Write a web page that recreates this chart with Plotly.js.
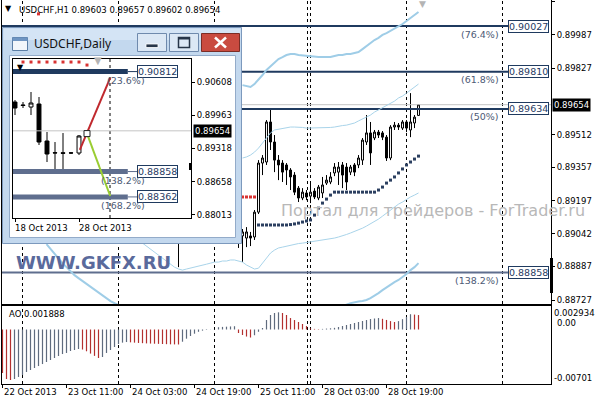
<!DOCTYPE html>
<html>
<head>
<meta charset="utf-8">
<script src="https://cdn.plot.ly/plotly-3.0.1.min.js"></script>
<style>
html,body{margin:0;padding:0;background:#fff;overflow:hidden;}
#chart{width:596px;height:400px;}
</style>
</head>
<body>
<div id="chart"></div>
<script>
// ================= DATA =================
var symbolMain  = 'USDCHF,H1';
var symbolDaily = 'USDCHF,Daily';

// ---- H1 chart: visible candles (x = bar number from the left edge) ----
var barIdx   = [44,59,60,61,62,63,64,65,66,67,68,69,70,71,72,73,74,75,76,77,78,79,80,81,82,83,84,85,86,87,88,89,90,91,92,93,94,95,96,97,98,99,100,101,102,103,104];
var barOpen  = [0.89059,0.89050,0.89031, 0.89021,0.89031,0.89026,0.89144,0.89377,0.89382,0.89572,0.89477,0.89391,0.89377, 0.89368,0.89344,0.89320,0.89258,0.89211,0.89235,0.89220,0.89244,0.89211,0.89235, 0.89282,0.89287,0.89330,0.89334,0.89368,0.89358,0.89334,0.89368,0.89368,0.89391, 0.89477,0.89520,0.89496,0.89524,0.89520,0.89500,0.89401,0.89548,0.89557,0.89543, 0.89572,0.89534,0.89567,0.89603];
var barHigh  = [0.89107,0.89069,0.89064, 0.89073,0.89050,0.89154,0.89391,0.89415,0.89581,0.89629,0.89510,0.89415,0.89391, 0.89377,0.89353,0.89334,0.89268,0.89258,0.89249,0.89282,0.89258,0.89273,0.89311, 0.89320,0.89334,0.89377,0.89382,0.89382,0.89377,0.89368,0.89377,0.89415,0.89496, 0.89605,0.89572,0.89534,0.89534,0.89529,0.89510,0.89557,0.89572,0.89567,0.89581, 0.89581,0.89709,0.89605,0.89657];
var barLow   = [0.88883,0.88974,0.88907, 0.88978,0.88983,0.89012,0.89135,0.89320,0.89368,0.89439,0.89334,0.89296,0.89287, 0.89273,0.89249,0.89225,0.89192,0.89201,0.89201,0.89187,0.89206,0.89201,0.89211, 0.89273,0.89277,0.89315,0.89273,0.89258,0.89249,0.89320,0.89315,0.89353,0.89368, 0.89463,0.89368,0.89486,0.89496,0.89486,0.89387,0.89391,0.89534,0.89534,0.89534, 0.89524,0.89500,0.89543,0.89602];
var barClose = [0.89021,0.89031,0.89050, 0.89050,0.89021,0.89144,0.89377,0.89401,0.89572,0.89477,0.89391,0.89368,0.89334, 0.89344,0.89311,0.89239,0.89211,0.89239,0.89216,0.89239,0.89216,0.89263,0.89273, 0.89296,0.89311,0.89358,0.89358,0.89320,0.89287,0.89358,0.89334,0.89401,0.89486, 0.89520,0.89425,0.89524,0.89510,0.89500,0.89401,0.89548,0.89557,0.89548,0.89572, 0.89543,0.89572,0.89595,0.89654];

// Parabolic SAR (below price = navy, above price = red)
var sarUpIdx  = [64,65,66,67,68,69,70,71,72,73,74,75,76,77,78,79,80,81,82,83,84,85,86,87,88,89,90,91,92,93,94,95,96,97,98,99,100,101,102,103,104];
var sarUpVal  = [0.89083,0.89083,0.89083,0.89083,0.89083,0.89083,0.89083,0.89083,0.89085,0.89088,0.89092,0.89097,0.89102,0.89107,
                 0.89130,0.89163,0.89187,0.89206,0.89225,
                 0.89239,0.89239,0.89239,0.89239,0.89239,0.89239,0.89239,0.89239,0.89239,0.89239,0.89239,
                 0.89249,0.89263,0.89282,0.89296,0.89311,0.89330,0.89349,0.89368,0.89382,0.89396,0.89410];
var sarDnIdx  = [9,60,61,62,63];
var sarDnVal  = [0.90085,0.89216,0.89216,0.89216,0.89216];

// Bands (only the parts not hidden behind the daily window)
var upperOuterStart = 60;
var upperOuter = [0.89747,0.89743,0.89738,0.89752,0.89771,0.89795,0.89819,0.89838,0.89857,0.89871,0.89880,0.89890,0.89895,0.89895,0.89890,0.89888,0.89885,0.89883,0.89880,0.89880,0.89880,0.89880,0.89880,0.89885,0.89890,0.89890,0.89895,0.89895,0.89899,0.89904,0.89918,0.89933,0.89947,0.89961,0.89971,0.89985,0.89994,0.90004,0.90013,0.90023,0.90037,0.90051,0.90066,0.90080,0.90094];
var upperInnerStart = 60;
var upperInner = [0.89401,0.89406,0.89415,0.89429,0.89448,0.89472,0.89501,0.89520,0.89534,0.89538,0.89543,0.89546,0.89548,0.89548,0.89548,0.89546,0.89543,0.89543,0.89543,0.89543,0.89543,0.89543,0.89546,0.89548,0.89553,0.89555,0.89557,0.89562,0.89567,0.89577,0.89586,0.89595,0.89605,0.89619,0.89629,0.89643,0.89652,0.89662,0.89671,0.89686,0.89695,0.89709,0.89724,0.89738,0.89752];
var lowerInnerStart = 35;
var lowerInner = [0.88997,0.88983,0.88969,0.88954,0.88940,0.88926,0.88912,0.88897,0.88883,0.88874,0.88869,0.88874,0.88878,0.88883,0.88888,0.88893,0.88897,0.88902,0.88907,0.88907,0.88912,0.88912,0.88917,0.88917,0.88912,0.88907,0.88893,0.88883,0.88874,0.88878,0.88902,0.88926,0.88950,0.88964,0.88974,0.88978,0.88983,0.88988,0.88992,0.88995,0.88997,0.89000,0.89002,0.89005,0.89007,0.89009,0.89012,0.89016,0.89021,0.89026,0.89031,0.89038,0.89045,0.89052,0.89059,0.89068,0.89078,0.89088,0.89097,0.89111,0.89125,0.89140,0.89154,0.89168,0.89182,0.89192,0.89206,0.89216,0.89225,0.89235];
var lowerOuterAStart = 11;
var lowerOuterA = [0.88992,0.88969,0.88945,0.88921,0.88902,0.88883,0.88864,0.88845,0.88831,0.88817,0.88803,0.88788,0.88774,0.88760,0.88746,0.88736,0.88722,0.88712,0.88703];
var lowerOuterBStart = 84;
var lowerOuterB = [0.88689,0.88698,0.88705,0.88712,0.88717,0.88720,0.88722,0.88727,0.88736,0.88746,0.88760,0.88774,0.88788,0.88798,0.88812,0.88822,0.88836,0.88850,0.88869,0.88883,0.88902];

// Fibonacci levels on the H1 chart
var fibLevels = [0.90027, 0.89810, 0.89634, 0.88858];
var fibNames  = ['(76.4%)', '(61.8%)', '(50%)', '(138.2%)'];
var bidPrice  = 0.89654;

// Day separators (bar numbers)
var separators = [5, 29, 53, 76.25, 77, 101, 125];

// Price axis labels
var priceTicks = [0.90142, 0.89987, 0.89827, 0.89512, 0.89357, 0.89197, 0.89042, 0.88887, 0.88727];

// Time axis labels
var timeLabelIdx  = [0, 16, 32, 48, 64, 80, 96];
var timeLabelText = ['22 Oct 2013', '23 Oct 11:00', '24 Oct 03:00', '24 Oct 19:00', '25 Oct 11:00', '28 Oct 03:00', '28 Oct 19:00'];

// Awesome Oscillator, one value per bar (bar 0..104)
var aoVals = [-0.00569,-0.00648,-0.00661,-0.00648,-0.00621,-0.00595,-0.00556,-0.00530,-0.00504,-0.00478,
              -0.00452,-0.00425,-0.00399,-0.00373,-0.00347,-0.00321,-0.00307,-0.00281,-0.00268,-0.00255,
              -0.00262,-0.00285,-0.00315,-0.00345,-0.00373,-0.00360,-0.00307,-0.00268,-0.00229,-0.00190,
              -0.00172,-0.00164,-0.00168,-0.00172,-0.00176,-0.00179,-0.00182,-0.00184,-0.00186,-0.00188,
              -0.00190,-0.00192,-0.00194,-0.00195,-0.00196,-0.00160,-0.00120,-0.00085,-0.00055,-0.00030,
              -0.00015,-0.00006,-0.00002,0.00005,0.00030,0.00034,0.00037,0.00040,0.00043,-0.00046,
              -0.00072,-0.00092,-0.00105,-0.00075,-0.00030,0.00020,0.00124,0.00190,0.00216,0.00225,
              0.00216,0.00190,0.00150,0.00124,0.00098,0.00072,0.00045,0.00015,0.00008,0.00005,
              0.00008,0.00012,0.00016,0.00022,0.00033,0.00046,0.00059,0.00072,0.00085,0.00098,
              0.00111,0.00124,0.00137,0.00144,0.00150,0.00140,0.00125,0.00110,0.00098,0.00110,
              0.00135,0.00165,0.00200,0.00195,0.001888];
var aoTickText = ['0.002934', '0.00', '-0.00701'];

// ---- Daily chart (inset window) ----
var dayIdx   = [0,1,2,3,4,5,6,7,8,9];
var dayOpen  = [0.90217,0.90159,0.90119,0.90178,0.89455,0.89220,0.89225,0.89220,0.89220,0.89553];
var dayHigh  = [0.90256,0.90217,0.90413,0.90315,0.89631,0.89435,0.89611,0.89240,0.89572,0.89660];
var dayLow   = [0.89963,0.90100,0.89963,0.89377,0.89044,0.88888,0.88888,0.89201,0.89181,0.89540];
var dayClose = [0.90100,0.90150,0.90198,0.89435,0.89201,0.89225,0.89215,0.89222,0.89553,0.89654];
var daySarIdx = [1,2,3,4,5,6,7,8,9];
var daySarVal = [0.90999,0.90999,0.90999,0.90999,0.90999,0.90999,0.90999,0.90999,0.90940];
var dayFibLevels = [0.90812, 0.88858, 0.88362];
var dayFibNames  = ['(23.6%)', '(138.2%)', '(168.2%)'];
var expUpX = [8.1, 11.9],  expUpY = [0.8928, 0.9069];
var expDnX = [9.0, 11.9],  expDnY = [0.8960, 0.8838];
var dayTicks = [0.90608, 0.89963, 0.89318, 0.88658, 0.88013];
var dayLabelIdx  = [0, 8];
var dayLabelText = ['18 Oct 2013', '28 Oct 2013'];
var daySeparator = 11.875;

// ================= DRAWING =================
var W = 596, H = 400;
function L(px){ return px / W; }
function T(py){ return 1 - py / H; }
var FONT = 'DejaVu Sans';
var NAVY = '#1f3a5f', SLATE = '#5f6e8e';
var mainRange = [0.88708, 0.90151];
var aoRange = [-0.00713, 0.003075];
var xRange = [-0.125, 137.125];
var fibEnd = 126.4;      // bar where level lines stop (label box start)
var fibTextEnd = 124.6;  // bar where level % text ends
function seq(start, arr){ return arr.map(function(v,k){ return start + k; }); }

var traces = [];
// --- main chart ---
fibLevels.forEach(function(lv, k){
  traces.push({type:'scatter', mode:'lines', x:[xRange[0], fibEnd], y:[lv, lv], xaxis:'x', yaxis:'y',
    line:{color: k === 3 ? SLATE : NAVY, width:2}, hoverinfo:'skip', showlegend:false});
});
traces.push({type:'scatter', mode:'lines', x:xRange, y:[bidPrice, bidPrice], xaxis:'x', yaxis:'y',
  line:{color:'#c4c4c4', width:1}, hoverinfo:'skip', showlegend:false});
var bandThick = {color:'#9fcde7', width:2}, bandThin = {color:'#a9d4ea', width:1};
traces.push({type:'scatter', mode:'lines', x:seq(upperOuterStart, upperOuter), y:upperOuter, xaxis:'x', yaxis:'y', line:bandThick, hoverinfo:'skip', showlegend:false});
traces.push({type:'scatter', mode:'lines', x:seq(upperInnerStart, upperInner), y:upperInner, xaxis:'x', yaxis:'y', line:bandThin, hoverinfo:'skip', showlegend:false});
traces.push({type:'scatter', mode:'lines', x:seq(lowerInnerStart, lowerInner), y:lowerInner, xaxis:'x', yaxis:'y', line:bandThin, hoverinfo:'skip', showlegend:false});
traces.push({type:'scatter', mode:'lines', x:seq(lowerOuterAStart, lowerOuterA), y:lowerOuterA, xaxis:'x', yaxis:'y', line:bandThick, hoverinfo:'skip', showlegend:false});
traces.push({type:'scatter', mode:'lines', x:seq(lowerOuterBStart, lowerOuterB), y:lowerOuterB, xaxis:'x', yaxis:'y', line:bandThick, hoverinfo:'skip', showlegend:false});
traces.push({type:'candlestick', x:barIdx, open:barOpen, high:barHigh, low:barLow, close:barClose, xaxis:'x', yaxis:'y',
  whiskerwidth:0,
  increasing:{line:{color:'#000', width:1}, fillcolor:'#ffffff'},
  decreasing:{line:{color:'#000', width:1}, fillcolor:'#000000'},
  hoverinfo:'skip', showlegend:false});
traces.push({type:'scatter', mode:'markers', x:sarUpIdx, y:sarUpVal, xaxis:'x', yaxis:'y',
  marker:{size:3, color:'#2b3f60', symbol:'square'}, hoverinfo:'skip', showlegend:false});
traces.push({type:'scatter', mode:'markers', x:sarDnIdx, y:sarDnVal, xaxis:'x', yaxis:'y',
  marker:{size:3, color:'#d83232', symbol:'square'}, hoverinfo:'skip', showlegend:false});

// --- AO ---
var aoColors = aoVals.map(function(v, i){ return (i === 0 || v < aoVals[i-1]) ? '#b3302f' : '#5f6b7e'; });
traces.push({type:'bar', x:aoVals.map(function(v,i){return i;}), y:aoVals, xaxis:'x2', yaxis:'y2',
  width:0.3, marker:{color:aoColors, line:{width:0}}, hoverinfo:'skip', showlegend:false});

// --- window frame subplot (keeps the daily window opaque) ---
traces.push({type:'scatter', mode:'markers', x:[100], y:[100], xaxis:'x3', yaxis:'y3',
  marker:{opacity:0}, hoverinfo:'skip', showlegend:false});

// --- daily chart ---
dayFibLevels.forEach(function(lv, k){
  traces.push({type:'scatter', mode:'lines', x:[-0.25, 14.1], y:[lv, lv], xaxis:'x4', yaxis:'y4',
    line:{color: k === 0 ? NAVY : SLATE, width:5}, hoverinfo:'skip', showlegend:false});
  traces.push({type:'scatter', mode:'lines', x:[14.1, 15.25], y:[lv, lv], xaxis:'x4', yaxis:'y4',
    line:{color: k === 0 ? NAVY : SLATE, width:1}, hoverinfo:'skip', showlegend:false});
});
traces.push({type:'scatter', mode:'lines', x:[-0.25, 22], y:[bidPrice, bidPrice], xaxis:'x4', yaxis:'y4',
  line:{color:'#c4c4c4', width:1}, hoverinfo:'skip', showlegend:false});
traces.push({type:'candlestick', x:dayIdx, open:dayOpen, high:dayHigh, low:dayLow, close:dayClose, xaxis:'x4', yaxis:'y4',
  whiskerwidth:0,
  increasing:{line:{color:'#000', width:1}, fillcolor:'#ffffff'},
  decreasing:{line:{color:'#000', width:1}, fillcolor:'#000000'},
  hoverinfo:'skip', showlegend:false});
traces.push({type:'scatter', mode:'lines', x:expUpX, y:expUpY, xaxis:'x4', yaxis:'y4',
  line:{color:'#c0282d', width:2}, hoverinfo:'skip', showlegend:false});
traces.push({type:'scatter', mode:'lines', x:expDnX, y:expDnY, xaxis:'x4', yaxis:'y4',
  line:{color:'#9acd32', width:2}, hoverinfo:'skip', showlegend:false});
traces.push({type:'scatter', mode:'markers', x:[expDnX[0]], y:[expDnY[0]], xaxis:'x4', yaxis:'y4',
  marker:{size:6, color:'#fff', symbol:'square', line:{color:'#222', width:1}}, hoverinfo:'skip', showlegend:false});
traces.push({type:'scatter', mode:'markers', x:daySarIdx, y:daySarVal, xaxis:'x4', yaxis:'y4',
  marker:{size:3, color:'#d83232', symbol:'square'}, hoverinfo:'skip', showlegend:false});

// ---------- shapes ----------
var shapes = [];
separators.forEach(function(s){
  shapes.push({type:'line', xref:'x', yref:'y', x0:s, x1:s, y0:mainRange[0], y1:mainRange[1], layer:'below',
    line:{color:'#000', width:1, dash:'3px,3px'}});
  shapes.push({type:'line', xref:'x2', yref:'y2', x0:s, x1:s, y0:aoRange[0], y1:aoRange[1], layer:'below',
    line:{color:'#000', width:1, dash:'3px,3px'}});
});
shapes.push({type:'line', xref:'x4', yref:'y4', x0:daySeparator, x1:daySeparator, y0:0.87950, y1:0.91058, layer:'below',
  line:{color:'#000', width:1, dash:'3px,3px'}});
// marker bars on the right edges
shapes.push({type:'line', xref:'paper', yref:'paper', x0:L(551.5), x1:L(551.5), y0:T(258), y1:T(293), layer:'above', line:{color:'#000', width:3}});
shapes.push({type:'line', xref:'paper', yref:'paper', x0:L(190.5), x1:L(190.5), y0:T(163), y1:T(170), layer:'above', line:{color:'#000', width:3}});

// window chrome (coordinates in page pixels on the frame subplot)
function fr(x0,y0,x1,y1,fill,lineColor,lw){
  return {type:'rect', xref:'x3', yref:'y3', x0:x0, y0:y0, x1:x1, y1:y1, layer:'below',
          fillcolor:fill, line:{color:lineColor || 'rgba(0,0,0,0)', width: lw === undefined ? 1 : lw}};
}
shapes.push(fr(2.5,27.5,241.5,243.5,'#c3d8ee','#7c99bd',1));
shapes.push(fr(3.5,28.5,240.5,40,'#d4e4f5',null,0));
shapes.push(fr(9.5,55.5,235.5,237.5,'#ffffff','#93abc9',1));
// title-bar icon
shapes.push(fr(12.5,37.5,27.5,50.5,'#f2f6fb','#5b7ea6',1));
shapes.push(fr(12.5,37.5,27.5,41,'#6f95c2',null,0));
// minimize / maximize / close
shapes.push(fr(137.5,33.5,166.5,51.5,'#dce8f5','#6f8aad',1));
shapes.push(fr(146,44,158,47.5,'#263548','#ffffff',0.8));
shapes.push(fr(169.5,33.5,198.5,51.5,'#dce8f5','#6f8aad',1));
shapes.push(fr(178.5,37.5,189.5,47.5,'rgba(0,0,0,0)','#263548',1.5));
shapes.push(fr(178.5,37.5,189.5,39.5,'#263548',null,0));
shapes.push(fr(201.5,33.5,239.5,51.5,'#c94b40','#7b2d26',1));
shapes.push({type:'line', xref:'x3', yref:'y3', x0:215, y0:37.5, x1:226, y1:47.5, layer:'below', line:{color:'#fff', width:2.5}});
shapes.push({type:'line', xref:'x3', yref:'y3', x0:215, y0:47.5, x1:226, y1:37.5, layer:'below', line:{color:'#fff', width:2.5}});

// ---------- annotations ----------
var ann = [];
function txt(o){
  o.showarrow = false;
  if(!o.yanchor) o.yanchor = 'middle';
  if(!o.xanchor) o.xanchor = 'center';
  if(!o.font) o.font = {family:FONT, size:8.5, color:'#000'};
  return o;
}
var lastK = barClose.length - 1;
var headerText = symbolMain + ' ' + [barOpen[lastK], barHigh[lastK], barLow[lastK], barClose[lastK]].map(function(v){return v.toFixed(5);}).join(' ');
ann.push(txt({xref:'paper', yref:'paper', x:L(8), y:T(9), text:'▼', font:{family:FONT, size:8, color:'#000'}}));
ann.push(txt({xref:'paper', yref:'paper', x:L(17), y:T(10), xanchor:'left', text:headerText}));
ann.push(txt({xref:'paper', yref:'paper', x:L(423), y:T(4), text:'▼', font:{family:FONT, size:9, color:'#b4b4b4'}}));
fibLevels.forEach(function(lv, k){
  ann.push(txt({xref:'x', yref:'y', x:fibEnd, y:lv, xanchor:'left', text:lv.toFixed(5),
    font:{family:FONT, size:9.5, color:NAVY}, bgcolor:'#fff', bordercolor:NAVY, borderwidth:1, borderpad:0}));
  ann.push(txt({xref:'x', yref:'y', x:fibTextEnd, y:lv, xanchor:'right', yshift:-8, text:fibNames[k],
    font:{family:FONT, size:9.5, color:'#4d5a75'}}));
});
ann.push(txt({xref:'paper', yref:'y', x:L(552), y:bidPrice, xanchor:'left', text:bidPrice.toFixed(5),
  font:{family:FONT, size:8.5, color:'#fff'}, bgcolor:'#000', borderpad:1}));
ann.push(txt({xref:'paper', yref:'paper', x:L(7), y:T(314), xanchor:'left',
  text:'AO ' + aoVals[aoVals.length-1].toFixed(6)}));
var aoLabelY = [313, 323, 378], aoLabelX = [552, 555, 552];
aoTickText.forEach(function(t, k){
  ann.push(txt({xref:'paper', yref:'paper', x:L(aoLabelX[k]), y:T(aoLabelY[k]), xanchor:'left', text:t}));
});
timeLabelIdx.forEach(function(ix, k){
  ann.push(txt({xref:'x2', yref:'paper', x:ix, y:T(392), xanchor:'left', xshift:-1, text:timeLabelText[k]}));
});
ann.push(txt({xref:'paper', yref:'paper', x:L(279), y:T(210), xanchor:'left', text:'Портал для трейдеров - ForTrader.ru',
  font:{family:FONT, size:16, color:'#b8b8b8'}}));
ann.push(txt({xref:'paper', yref:'paper', x:L(14), y:T(262), xanchor:'left', text:'<b>WWW.GKFX.RU</b>',
  font:{family:FONT, size:18, color:'#5a6a9c'}}));
// daily window texts
ann.push(txt({xref:'paper', yref:'paper', x:L(32), y:T(44), xanchor:'left', text:symbolDaily,
  font:{family:'Noto Sans', size:12, color:'#111'}}));
ann.push(txt({xref:'paper', yref:'paper', x:L(20), y:T(67), text:'▼', font:{family:FONT, size:8, color:'#000'}}));
ann.push(txt({xref:'paper', yref:'paper', x:L(98), y:T(61), text:'▼', font:{family:FONT, size:10, color:'#b4b4b4'}}));
dayFibLevels.forEach(function(lv, k){
  ann.push(txt({xref:'x4', yref:'y4', x:15.25, y:lv, xanchor:'left', text:lv.toFixed(5),
    font:{family:FONT, size:9.5, color:NAVY}, bgcolor:'#fff', bordercolor:NAVY, borderwidth:1, borderpad:0}));
  ann.push(txt({xref:'x4', yref:'y4', x:16.5, y:lv, xanchor:'right', yshift:-9, text:dayFibNames[k],
    font:{family:FONT, size:9.5, color:'#4d5a75'}}));
});
ann.push(txt({xref:'paper', yref:'y4', x:L(193), y:bidPrice, xanchor:'left', text:bidPrice.toFixed(5),
  font:{family:FONT, size:8.5, color:'#fff'}, bgcolor:'#000', borderpad:1}));
dayLabelIdx.forEach(function(ix, k){
  ann.push(txt({xref:'x4', yref:'paper', x:ix, y:T(228), xanchor:'left', xshift:-2, text:dayLabelText[k]}));
});

var tickFont = {family:FONT, size:8.5, color:'#000'};
var layout = {
  width:W, height:H, autosize:false,
  margin:{l:0, r:0, t:0, b:0, pad:0},
  paper_bgcolor:'#fff', plot_bgcolor:'#fff',
  showlegend:false,
  xaxis:{domain:[L(2), L(551)], range:xRange, anchor:'y', showgrid:false, zeroline:false,
         showticklabels:false, ticks:'', showline:true, mirror:true, linecolor:'#000', linewidth:1,
         rangeslider:{visible:false}, fixedrange:true},
  yaxis:{domain:[T(304), T(0)], range:mainRange, anchor:'x', side:'right', showgrid:false, zeroline:false,
         tickmode:'array', tickvals:priceTicks, ticktext:priceTicks.map(function(v){return v.toFixed(5);}),
         ticks:'outside', ticklen:3, tickcolor:'#000', tickfont:tickFont,
         showline:true, mirror:true, linecolor:'#000', linewidth:1, automargin:false, fixedrange:true},
  xaxis2:{domain:[L(2), L(551)], range:xRange, anchor:'y2', showgrid:false, zeroline:false,
          tickmode:'array', tickvals:timeLabelIdx, ticktext:timeLabelIdx.map(function(){return '';}),
          ticks:'outside', ticklen:3, tickcolor:'#000',
          showline:true, mirror:true, linecolor:'#000', linewidth:1, automargin:false, fixedrange:true},
  yaxis2:{domain:[T(384), T(306)], range:aoRange, anchor:'x2', side:'right', showgrid:false, zeroline:false,
          showticklabels:false, ticks:'', showline:true, mirror:true, linecolor:'#000', linewidth:1,
          automargin:false, fixedrange:true},
  xaxis3:{domain:[L(2), L(242)], range:[2, 242], anchor:'y3', visible:false, fixedrange:true},
  yaxis3:{domain:[T(244), T(27)], range:[244, 27], anchor:'x3', visible:false, fixedrange:true},
  xaxis4:{domain:[L(13), L(191)], range:[-0.25, 22], anchor:'y4', showgrid:false, zeroline:false,
          tickmode:'array', tickvals:dayLabelIdx, ticktext:dayLabelIdx.map(function(){return '';}),
          ticks:'outside', ticklen:3, tickcolor:'#000',
          showline:true, mirror:true, linecolor:'#000', linewidth:1,
          rangeslider:{visible:false}, automargin:false, fixedrange:true},
  yaxis4:{domain:[T(218), T(59)], range:[0.87950, 0.91058], anchor:'x4', side:'right', showgrid:false, zeroline:false,
          tickmode:'array', tickvals:dayTicks, ticktext:dayTicks.map(function(v){return v.toFixed(5);}),
          ticks:'outside', ticklen:3, tickcolor:'#000', tickfont:tickFont,
          showline:true, mirror:true, linecolor:'#000', linewidth:1, automargin:false, fixedrange:true},
  shapes:shapes,
  annotations:ann
};

Plotly.newPlot('chart', traces, layout, {staticPlot:true, displayModeBar:false});
</script>
</body>
</html>
